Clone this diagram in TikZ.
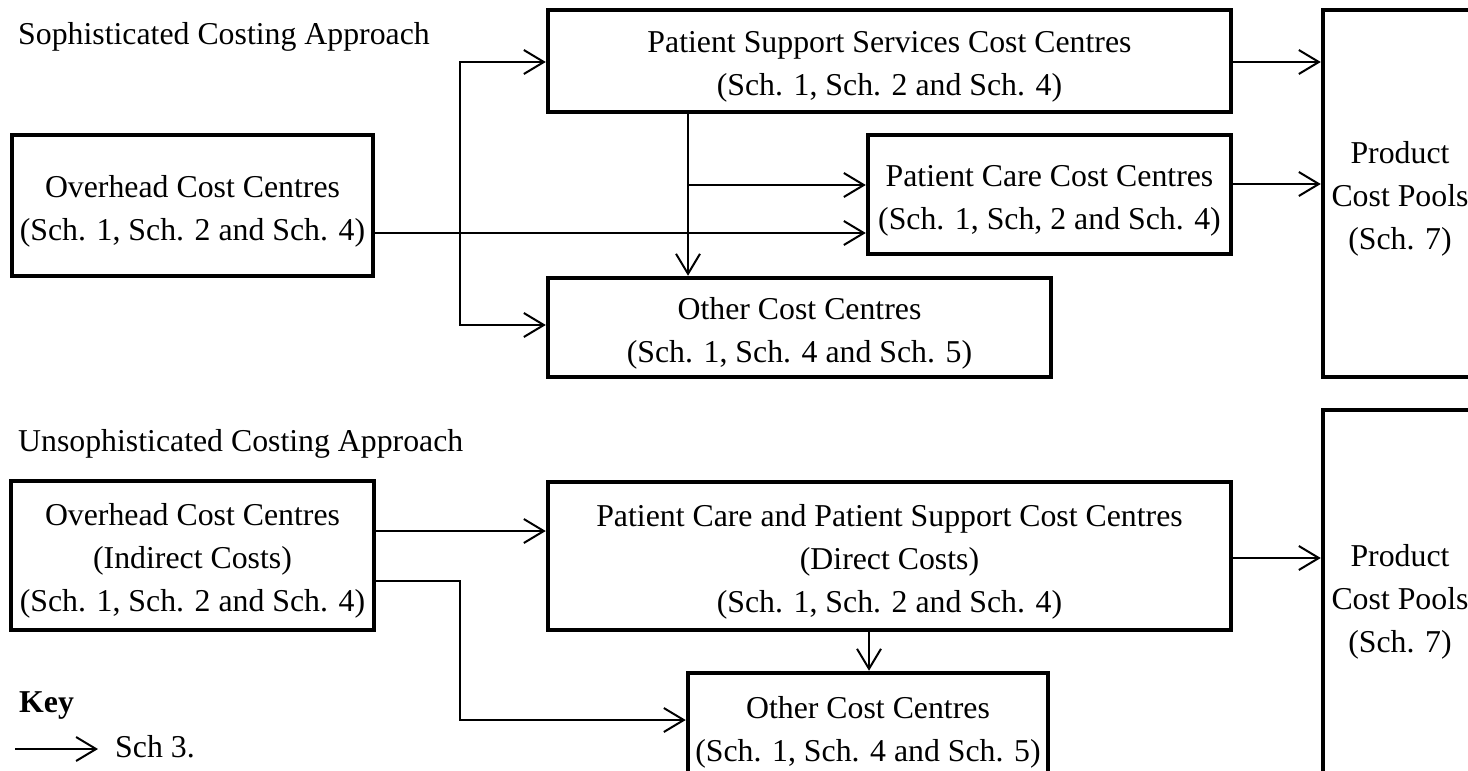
\documentclass[tikz,border=0pt]{standalone}
\usepackage{fontspec}
\setmainfont{Liberation Serif}
\usetikzlibrary{arrows.meta}
% invisible strut that lowers a box's text a little below its centre
\newcommand\topgap{\rule{0pt}{33pt}}

\begin{document}
\begin{tikzpicture}[x=1pt, y=-1pt,
  box/.style={draw, line width=4.5pt, align=center, inner sep=0pt,
              font=\fontsize{31.8}{43}\selectfont},
  conn/.style={line width=2pt},
  arr/.style={conn, -{Straight Barb[length=20pt,width=24pt]}},
  caption/.style={anchor=base west, inner sep=0pt,
                  font=\fontsize{31.8}{43}\selectfont}]

\useasboundingbox (0,0) rectangle (1468,771);
\clip (0,0) rectangle (1468,771);

% ---------- sophisticated approach ----------
\node[caption] (t1) at (18,45) {Sophisticated Costing Approach};

\node[box, minimum width=361pt, minimum height=141pt] (oh1) at (192.5,205.5)
  {\topgap Overhead Cost Centres\\(Sch. 1, Sch. 2 and Sch. 4)};
\node[box, minimum width=683pt, minimum height=102pt] (pss) at (889.5,61)
  {\topgap Patient Support Services Cost Centres\\(Sch. 1, Sch. 2 and Sch. 4)};
\node[box, minimum width=363pt, minimum height=119pt] (pcc) at (1049.5,194.5)
  {\topgap Patient Care Cost Centres\\(Sch. 1, Sch, 2 and Sch. 4)};
\node[box, minimum width=503pt, minimum height=99pt] (oth1) at (799.5,327.5)
  {\topgap Other Cost Centres\\(Sch. 1, Sch. 4 and Sch. 5)};
\node[box, minimum width=154pt, minimum height=367pt] (pcp1) at (1400,193.5)
  {\topgap Product\\Cost Pools\\(Sch. 7)};

\coordinate (jt) at (460,233);
\coordinate (jb) at (688,185);

\draw[arr] (oh1.east |- jt) -- (pcc.west |- jt);
\draw[arr] (jt) |- (pss.west |- 0,62);
\draw[arr] (jt) |- (oth1.west |- 0,325);
\draw[arr] (pss.south -| jb) -- (oth1.north -| jb);
\draw[arr] (jb) -- (pcc.west |- jb);
\draw[arr] (pss.east |- 0,62) -- (pcp1.west |- 0,62);
\draw[arr] (pcc.east |- 0,184) -- (pcp1.west |- 0,184);

% ---------- unsophisticated approach ----------
\node[caption] (t2) at (18,451) {Unsophisticated Costing Approach};

\node[box, minimum width=363pt, minimum height=149pt] (oh2) at (192.5,555.5)
  {\topgap Overhead Cost Centres\\(Indirect Costs)\\(Sch. 1, Sch. 2 and Sch. 4)};
\node[box, minimum width=683pt, minimum height=148pt] (pcps) at (889.5,556)
  {\topgap Patient Care and Patient Support Cost Centres\\(Direct Costs)\\(Sch. 1, Sch. 2 and Sch. 4)};
\node[box, minimum width=360pt, minimum height=108pt] (oth2) at (868,727)
  {\topgap Other Cost Centres\\(Sch. 1, Sch. 4 and Sch. 5)};
\node[box, minimum width=154pt, minimum height=372pt] (pcp2) at (1400,596)
  {\topgap Product\\Cost Pools\\(Sch. 7)};

\coordinate (jc) at (460,720);

\draw[arr] (oh2.east |- 0,531) -- (pcps.west |- 0,531);
\draw[arr] (oh2.east |- 0,581) -| (jc) -- (oth2.west |- jc);
\draw[arr] (pcps.south -| 869,0) -- (oth2.north -| 869,0);
\draw[arr] (pcps.east |- 0,558) -- (pcp2.west |- 0,558);

% ---------- key ----------
\node[caption, font=\fontsize{31.8}{43}\selectfont\bfseries] (key) at (19,712) {Key};
\coordinate (ka) at (15,749);
\node[caption, inner xsep=17pt] (sch3) at (98,757) {Sch 3.};
\draw[arr] (ka) -- (ka -| sch3.west);

\end{tikzpicture}
\end{document}
